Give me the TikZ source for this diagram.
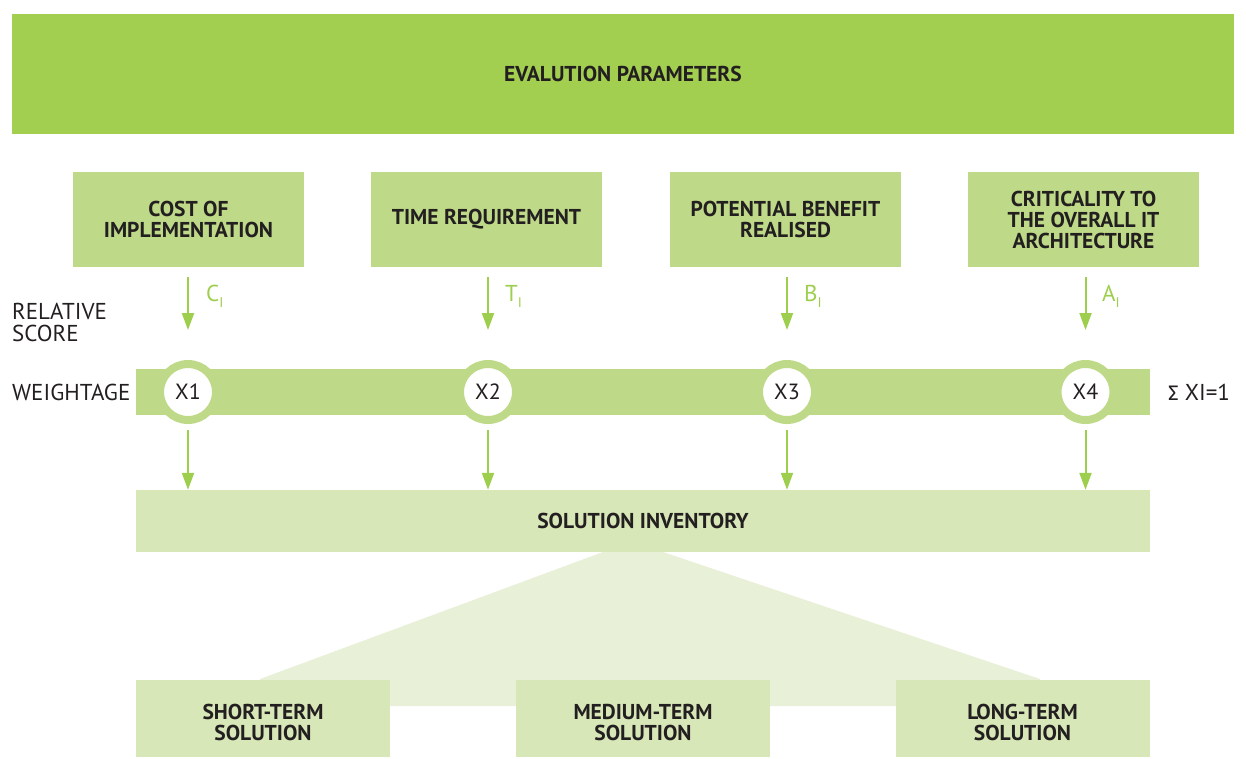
\documentclass[tikz,border=0pt]{standalone}
\usepackage{fontspec}
\setmainfont{PT Sans}
\newfontfamily\greekfont{Fira Sans}
\usetikzlibrary{arrows.meta}
\definecolor{topgreen}{HTML}{A2CF50}
\definecolor{midgreen}{HTML}{BEDA88}
\definecolor{palegreen}{HTML}{D7E7B7}
\definecolor{trapgreen}{HTML}{E8F0D8}
\definecolor{arrowgreen}{HTML}{9DCE4E}
\definecolor{textdark}{HTML}{231F20}
\tikzset{
  boldtxt/.style={font=\fontsize{21.5}{21}\selectfont\bfseries, text=textdark, align=center},
  lighttxt/.style={font=\fontsize{23}{22}\selectfont, text=textdark, inner sep=0pt, anchor=west, align=left},
  parambox/.style={boldtxt, fill=midgreen, minimum width=231pt, minimum height=95pt, inner sep=0pt},
  solbox/.style={fill=palegreen, minimum width=254pt, minimum height=77pt, inner sep=0pt},
  weightcirc/.style={circle, draw=midgreen, line width=8pt, fill=white, minimum size=56pt, inner sep=0pt, font=\fontsize{22}{22}\selectfont, text=textdark},
  arr/.style={draw=arrowgreen, line width=2pt, -{Triangle[length=17pt, width=12pt]}},
  scorelbl/.style={font=\fontsize{23}{22}\selectfont, text=arrowgreen, inner sep=0pt, anchor=west},
}
\newcommand{\subI}{\raisebox{-6pt}{\fontsize{14}{14}\selectfont I}}
\begin{document}
\begin{tikzpicture}[x=1pt, y=-1pt]
\useasboundingbox (0,0) rectangle (1246,758);
% top banner
\node[boldtxt, fill=topgreen, minimum width=1222pt, minimum height=120pt, inner sep=0pt] (top) at (623,74) {EVALUTION PARAMETERS};
% parameter boxes
\node[parambox] (b1) at (188.5,219.5) {COST OF\\IMPLEMENTATION};
\node[parambox] (b2) at (486.5,219.5) {TIME REQUIREMENT};
\node[parambox] (b3) at (785.5,219.5) {POTENTIAL BENEFIT\\REALISED};
\node[parambox] (b4) at (1083.5,219.5) {CRITICALITY TO\\THE OVERALL IT\\ARCHITECTURE};
% weightage band
\node[fill=midgreen, minimum width=1014pt, minimum height=46pt, inner sep=0pt] (band) at (643,392) {};
\node[weightcirc] (c1) at (188,392) {X1};
\node[weightcirc] (c2) at (488,392) {X2};
\node[weightcirc] (c3) at (787,392) {X3};
\node[weightcirc] (c4) at (1085.5,392) {X4};
% arrows into circles
\draw[arr, shorten <=10pt, shorten >=30pt] (b1.south -| c1) -- (c1.north);
\draw[arr, shorten <=10pt, shorten >=30pt] (b2.south -| c2) -- (c2.north);
\draw[arr, shorten <=10pt, shorten >=30pt] (b3.south -| c3) -- (c3.north);
\draw[arr, shorten <=10pt, shorten >=30pt] (b4.south -| c4) -- (c4.north);
% score labels
\node[scorelbl] (s1) at (206,296) {C\subI};
\node[scorelbl] (s2) at (505,296) {T\subI};
\node[scorelbl] (s3) at (804,296) {B\subI};
\node[scorelbl] (s4) at (1102,296) {A\subI};
% side labels
\node[lighttxt] (rel) at (12,322) {RELATIVE\\SCORE};
\node[lighttxt] (wt) at (12,392) {WEIGHTAGE};
\node[lighttxt] (sum) at (1168,392) {{\greekfont\fontsize{21}{21}\selectfont\symbol{"03A3}} XI=1};
% solution inventory
\node[boldtxt, fill=palegreen, minimum width=1014pt, minimum height=62pt, inner sep=0pt] (inv) at (643,521) {SOLUTION INVENTORY};
% trapezoid
\fill[trapgreen] (603,552) -- (663,552) -- (1040,679) -- (1040,706) -- (260,706) -- (260,679) -- cycle;
% arrows into inventory
\draw[arr, shorten <=6pt] (c1.south) -- (c1.south |- inv.north);
\draw[arr, shorten <=6pt] (c2.south) -- (c2.south |- inv.north);
\draw[arr, shorten <=6pt] (c3.south) -- (c3.south |- inv.north);
\draw[arr, shorten <=6pt] (c4.south) -- (c4.south |- inv.north);
% solution boxes
\node[solbox, label={[boldtxt, yshift=-4pt]center:SHORT-TERM\\SOLUTION}] (st) at (263,718.5) {};
\node[solbox, label={[boldtxt, yshift=-4pt]center:MEDIUM-TERM\\SOLUTION}] (mt) at (643,718.5) {};
\node[solbox, label={[boldtxt, yshift=-4pt]center:LONG-TERM\\SOLUTION}] (lt) at (1022.5,718.5) {};
\end{tikzpicture}
\end{document}
